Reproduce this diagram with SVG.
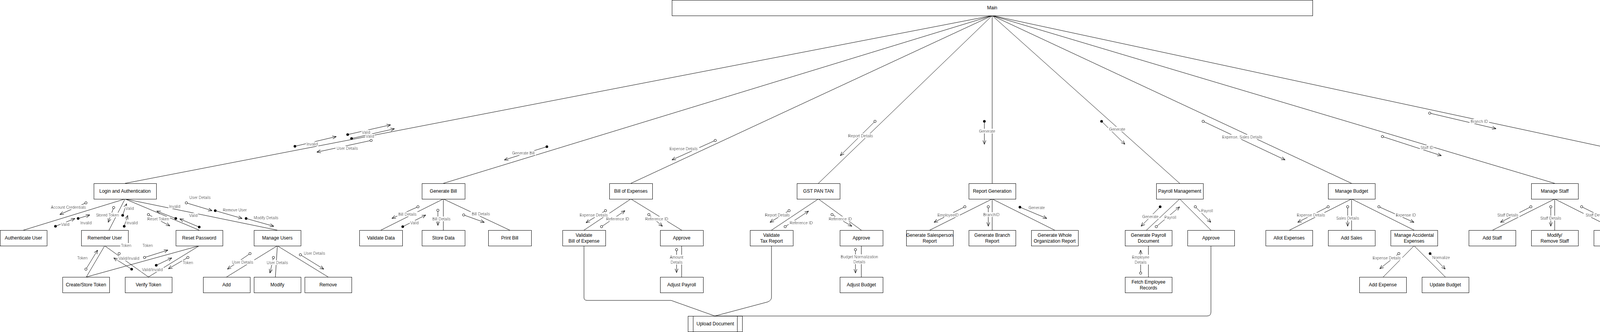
<svg xmlns="http://www.w3.org/2000/svg" width="4761" height="851" viewBox="0 0 4761 851">
<defs>
<style>
.n rect{fill:#fff;stroke:#000;stroke-width:1}
.n text,.t{font-family:"Liberation Sans",Arial,sans-serif;font-size:12px;text-anchor:middle;dominant-baseline:central;fill:#000}
#connectors path,#connectors line{fill:none;stroke:#000;stroke-width:1}
#couples line{stroke:#000;stroke-width:1;marker-end:url(#arr)}
#couples circle{stroke:#000;stroke-width:1}
#couples .o{fill:#fff}
#couples .f{fill:#000}
#labels text{font-family:"Liberation Sans",Arial,sans-serif;font-size:10px;text-anchor:middle;dominant-baseline:central;fill:#000;filter:url(#bg)}
</style>
<marker id="arr" viewBox="0 0 10 10" refX="10" refY="5" markerWidth="10" markerHeight="10" markerUnits="userSpaceOnUse" orient="auto">
<path d="M0,1 L10,5 L0,9" fill="none" stroke="#000" stroke-width="1"/>
</marker>
<filter id="bg" x="-0.04" y="-0.02" width="1.08" height="1.04">
<feFlood flood-color="#fff"/>
<feComposite in="SourceGraphic" operator="over"/>
</filter>
</defs>
<rect width="4761" height="851" fill="#fff"/>

<g id="connectors">
<line x1="2540" y1="40" x2="320" y2="470"/>
<line x1="2540" y1="40" x2="1135" y2="470"/>
<line x1="2540" y1="40" x2="1615" y2="470"/>
<line x1="2540" y1="40" x2="2095" y2="470"/>
<line x1="2540" y1="40" x2="2540" y2="470"/>
<line x1="2540" y1="40" x2="3020" y2="470"/>
<line x1="2540" y1="40" x2="3460" y2="470"/>
<line x1="2540" y1="40" x2="3980" y2="470"/>
<line x1="2540" y1="40" x2="4540" y2="470"/>
<line x1="320" y1="510" x2="60" y2="590"/>
<line x1="320" y1="510" x2="279" y2="590"/>
<line x1="320" y1="510" x2="510" y2="590"/>
<line x1="320" y1="510" x2="710" y2="590"/>
<line x1="268" y1="630" x2="221" y2="710"/>
<line x1="268" y1="630" x2="380" y2="710"/>
<line x1="510" y1="630" x2="221" y2="710"/>
<line x1="510" y1="630" x2="380" y2="710"/>
<line x1="710" y1="630" x2="580" y2="710"/>
<line x1="710" y1="630" x2="705" y2="710"/>
<line x1="710" y1="630" x2="840" y2="710"/>
<line x1="1135" y1="510" x2="975" y2="590"/>
<line x1="1135" y1="510" x2="1135" y2="590"/>
<line x1="1135" y1="510" x2="1305" y2="590"/>
<line x1="1615" y1="510" x2="1495" y2="590"/>
<line x1="1615" y1="510" x2="1745" y2="590"/>
<line x1="1745" y1="630" x2="1745" y2="710"/>
<path d="M1495 630 V763 Q1495 770 1503 770 H1718 L1830 810"/>
<line x1="2095" y1="510" x2="1975" y2="590"/>
<line x1="2095" y1="510" x2="2205" y2="590"/>
<line x1="2205" y1="630" x2="2205" y2="710"/>
<path d="M1975 630 V762 Q1975 770 1965 774 L1830 810"/>
<line x1="2540" y1="510" x2="2380" y2="590"/>
<line x1="2540" y1="510" x2="2540" y2="590"/>
<line x1="2540" y1="510" x2="2700" y2="590"/>
<line x1="3020" y1="510" x2="2935" y2="590"/>
<line x1="3020" y1="510" x2="3100" y2="590"/>
<line x1="2940" y1="630" x2="2940" y2="710"/>
<path d="M3100 630 V800 Q3100 810 3090 810 H1830"/>
<line x1="3460" y1="510" x2="3301" y2="590"/>
<line x1="3460" y1="510" x2="3460" y2="590"/>
<line x1="3460" y1="510" x2="3620" y2="590"/>
<line x1="3620" y1="630" x2="3541" y2="710"/>
<line x1="3620" y1="630" x2="3700" y2="710"/>
<line x1="3980" y1="510" x2="3821" y2="590"/>
<line x1="3980" y1="510" x2="3980" y2="590"/>
<line x1="3980" y1="510" x2="4139" y2="590"/>
<line x1="4540" y1="510" x2="4380" y2="590"/>
<line x1="4540" y1="510" x2="4540" y2="590"/>
<line x1="4540" y1="510" x2="4700" y2="590"/>
</g>

<g id="nodes">
<g id="main" class="n"><rect x="1720.5" y="0.5" width="1640" height="40"/><text x="2540" y="20">Main</text></g>
<g id="login" class="n"><rect x="240.5" y="470.5" width="160" height="40"/><text x="320" y="490">Login and Authentication</text></g>
<g id="authenticate-user" class="n"><rect x="0.5" y="590.5" width="120" height="40"/><text x="60" y="610">Authenticate User</text></g>
<g id="remember-user" class="n"><rect x="208.5" y="590.5" width="120" height="40"/><text x="268" y="610">Remember User</text></g>
<g id="reset-password" class="n"><rect x="450.5" y="590.5" width="120" height="40"/><text x="510" y="610">Reset Password</text></g>
<g id="manage-users" class="n"><rect x="650.5" y="590.5" width="120" height="40"/><text x="710" y="610">Manage Users</text></g>
<g id="create-token" class="n"><rect x="160.5" y="710.5" width="120" height="40"/><text x="220" y="730">Create/Store Token</text></g>
<g id="verify-token" class="n"><rect x="320.5" y="710.5" width="120" height="40"/><text x="380" y="730">Verify Token</text></g>
<g id="add-user" class="n"><rect x="520.5" y="710.5" width="120" height="40"/><text x="580" y="730">Add</text></g>
<g id="modify-user" class="n"><rect x="650.5" y="710.5" width="120" height="40"/><text x="710" y="730">Modify</text></g>
<g id="remove-user" class="n"><rect x="780.5" y="710.5" width="120" height="40"/><text x="840" y="730">Remove</text></g>
<g id="generate-bill" class="n"><rect x="1080.5" y="470.5" width="110" height="40"/><text x="1135" y="490">Generate Bill</text></g>
<g id="validate-data" class="n"><rect x="920.5" y="590.5" width="110" height="40"/><text x="975" y="610">Validate Data</text></g>
<g id="store-data" class="n"><rect x="1080.5" y="590.5" width="110" height="40"/><text x="1135" y="610">Store Data</text></g>
<g id="print-bill" class="n"><rect x="1250.5" y="590.5" width="110" height="40"/><text x="1305" y="610">Print Bill</text></g>
<g id="bill-expenses" class="n"><rect x="1560.5" y="470.5" width="110" height="40"/><text x="1615" y="490">Bill of Expenses</text></g>
<g id="validate-boe" class="n"><rect x="1440.5" y="590.5" width="110" height="40"/><text x="1495" y="602.5">Validate</text><text x="1495" y="617.5">Bill of Expense</text></g>
<g id="approve-boe" class="n"><rect x="1690.5" y="590.5" width="110" height="40"/><text x="1745" y="610">Approve</text></g>
<g id="adjust-payroll" class="n"><rect x="1690.5" y="710.5" width="110" height="40"/><text x="1745" y="730">Adjust Payroll</text></g>
<g id="gst" class="n"><rect x="2040.5" y="470.5" width="110" height="40"/><text x="2095" y="490">GST PAN TAN</text></g>
<g id="validate-tax" class="n"><rect x="1920.5" y="590.5" width="110" height="40"/><text x="1975" y="602.5">Validate</text><text x="1975" y="617.5">Tax Report</text></g>
<g id="approve-gst" class="n"><rect x="2150.5" y="590.5" width="110" height="40"/><text x="2205" y="610">Approve</text></g>
<g id="adjust-budget" class="n"><rect x="2150.5" y="710.5" width="110" height="40"/><text x="2205" y="730">Adjust Budget</text></g>
<g id="report-generation" class="n"><rect x="2480.5" y="470.5" width="120" height="40"/><text x="2540" y="490">Report Generation</text></g>
<g id="salesperson-report" class="n"><rect x="2320.5" y="590.5" width="120" height="40"/><text x="2380" y="602.5">Generate Salesperson</text><text x="2380" y="617.5">Report</text></g>
<g id="branch-report" class="n"><rect x="2480.5" y="590.5" width="120" height="40"/><text x="2540" y="602.5">Generate Branch</text><text x="2540" y="617.5">Report</text></g>
<g id="org-report" class="n"><rect x="2640.5" y="590.5" width="120" height="40"/><text x="2700" y="602.5">Generate Whole</text><text x="2700" y="617.5">Organization Report</text></g>
<g id="payroll" class="n"><rect x="2960.5" y="470.5" width="120" height="40"/><text x="3020" y="490">Payroll Management</text></g>
<g id="payroll-document" class="n"><rect x="2880.5" y="590.5" width="120" height="40"/><text x="2940" y="602.5">Generate Payroll</text><text x="2940" y="617.5">Document</text></g>
<g id="approve-payroll" class="n"><rect x="3040.5" y="590.5" width="120" height="40"/><text x="3100" y="610">Approve</text></g>
<g id="fetch-employee" class="n"><rect x="2880.5" y="710.5" width="120" height="40"/><text x="2940" y="722.5">Fetch Employee</text><text x="2940" y="737.5">Records</text></g>
<g id="manage-budget" class="n"><rect x="3400.5" y="470.5" width="120" height="40"/><text x="3460" y="490">Manage Budget</text></g>
<g id="allot-expenses" class="n"><rect x="3240.5" y="590.5" width="120" height="40"/><text x="3300" y="610">Allot Expenses</text></g>
<g id="add-sales" class="n"><rect x="3400.5" y="590.5" width="120" height="40"/><text x="3460" y="610">Add Sales</text></g>
<g id="accidental-expenses" class="n"><rect x="3560.5" y="590.5" width="120" height="40"/><text x="3620" y="602.5">Manage Accidental</text><text x="3620" y="617.5">Expenses</text></g>
<g id="add-expense" class="n"><rect x="3480.5" y="710.5" width="120" height="40"/><text x="3540" y="730">Add Expense</text></g>
<g id="update-budget" class="n"><rect x="3640.5" y="710.5" width="120" height="40"/><text x="3700" y="730">Update Budget</text></g>
<g id="manage-staff" class="n"><rect x="3920.5" y="470.5" width="120" height="40"/><text x="3980" y="490">Manage Staff</text></g>
<g id="add-staff" class="n"><rect x="3760.5" y="590.5" width="120" height="40"/><text x="3820" y="610">Add Staff</text></g>
<g id="modify-staff" class="n"><rect x="3920.5" y="590.5" width="120" height="40"/><text x="3980" y="602.5">Modify/</text><text x="3980" y="617.5">Remove Staff</text></g>
<g id="transfer-staff" class="n"><rect x="4080.5" y="590.5" width="120" height="40"/><text x="4140" y="610">Transfer Staff</text></g>
<g id="manage-branch" class="n"><rect x="4480.5" y="470.5" width="120" height="40"/><text x="4540" y="482.5">Manage Branch</text><text x="4540" y="497.5">Account</text></g>
<g id="add-branch" class="n"><rect x="4320.5" y="590.5" width="120" height="40"/><text x="4380" y="610">Add Branch</text></g>
<g id="modify-branch" class="n"><rect x="4480.5" y="590.5" width="120" height="40"/><text x="4540" y="610">Modify</text></g>
<g id="delete-branch" class="n"><rect x="4640.5" y="590.5" width="120" height="40"/><text x="4700" y="610">Delete</text></g>
<g id="upload-document" class="n"><rect x="1761.5" y="810.5" width="139" height="40"/><line x1="1774.5" y1="810.5" x2="1774.5" y2="850.5" stroke="#000"/><line x1="1887.5" y1="810.5" x2="1887.5" y2="850.5" stroke="#000"/><text x="1831" y="830">Upload Document</text></g>
</g>

<g id="couples">
<line x1="755" y1="375" x2="861" y2="350"/><circle class="f" cx="755" cy="375" r="3"/>
<line x1="890" y1="345" x2="1000" y2="320"/><circle class="f" cx="890" cy="345" r="3"/>
<line x1="900" y1="355" x2="1010" y2="330"/><circle class="f" cx="900" cy="355" r="3"/>
<line x1="950" y1="360" x2="811" y2="390"/><circle class="o" cx="950" cy="360" r="3"/>
<line x1="1400" y1="376" x2="1291" y2="410"/><circle class="f" cx="1400" cy="376" r="3"/>
<line x1="1831" y1="360" x2="1720" y2="410"/><circle class="o" cx="1831" cy="360" r="3"/>
<line x1="2240" y1="311" x2="2151" y2="399"/><circle class="o" cx="2240" cy="311" r="3"/>
<line x1="2520" y1="311" x2="2520" y2="370"/><circle class="f" cx="2520" cy="311" r="3"/>
<line x1="2820" y1="311" x2="2880" y2="370"/><circle class="f" cx="2820" cy="311" r="3"/>
<line x1="3080" y1="311" x2="3290" y2="410"/><circle class="o" cx="3080" cy="311" r="3"/>
<line x1="3539" y1="350" x2="3690" y2="399"/><circle class="o" cx="3539" cy="350" r="3"/>
<line x1="3660" y1="290" x2="3830" y2="330"/><circle class="o" cx="3660" cy="290" r="3"/>

<line x1="220" y1="520" x2="153" y2="550"/><circle class="o" cx="220" cy="520" r="3"/>
<line x1="142" y1="580" x2="192" y2="560"/><circle class="f" cx="142" cy="580" r="3"/>
<line x1="200" y1="560" x2="230" y2="551"/><circle class="f" cx="200" cy="560" r="3"/>
<line x1="291" y1="532" x2="277" y2="570"/><circle class="o" cx="291" cy="532" r="3"/>
<line x1="314" y1="552" x2="324" y2="522"/><circle class="f" cx="314" cy="552" r="3"/>
<line x1="318" y1="580" x2="327" y2="552"/><circle class="f" cx="318" cy="580" r="3"/>
<line x1="380" y1="550" x2="435" y2="579"/><circle class="o" cx="380" cy="550" r="3"/>
<line x1="510" y1="582" x2="460" y2="561"/><circle class="f" cx="510" cy="582" r="3"/>
<line x1="450" y1="560" x2="401" y2="541"/><circle class="f" cx="450" cy="560" r="3"/>
<line x1="477" y1="520" x2="543" y2="540"/><circle class="o" cx="477" cy="520" r="3"/>
<line x1="551" y1="540" x2="620" y2="560"/><circle class="f" cx="551" cy="540" r="3"/>
<line x1="630" y1="560" x2="701" y2="580"/><circle class="f" cx="630" cy="560" r="3"/>

<line x1="220" y1="690" x2="250" y2="641"/><circle class="o" cx="220" cy="690" r="3"/>
<circle class="o" cx="305" cy="650" r="3"/>
<line x1="337" y1="690" x2="291" y2="661"/><circle class="f" cx="337" cy="690" r="3"/>
<line x1="370" y1="660" x2="430" y2="641"/><circle class="o" cx="370" cy="660" r="3"/>
<line x1="400" y1="680" x2="440" y2="661"/><circle class="f" cx="400" cy="680" r="3"/>
<line x1="481" y1="660" x2="431" y2="689"/><circle class="o" cx="481" cy="660" r="3"/>

<line x1="640" y1="650" x2="582" y2="690"/><circle class="o" cx="640" cy="650" r="3"/>
<line x1="700" y1="660" x2="691" y2="700"/><circle class="o" cx="700" cy="660" r="3"/>
<line x1="769" y1="653" x2="829" y2="690"/><circle class="o" cx="769" cy="653" r="3"/>

<line x1="1070" y1="530" x2="1003" y2="560"/><circle class="o" cx="1070" cy="530" r="3"/>
<line x1="1031" y1="581" x2="1090" y2="551"/><circle class="f" cx="1031" cy="581" r="3"/>
<line x1="1121" y1="539" x2="1121" y2="578"/><circle class="o" cx="1121" cy="539" r="3"/>
<line x1="1187" y1="551" x2="1240" y2="570"/><circle class="o" cx="1187" cy="551" r="3"/>

<line x1="1550" y1="540" x2="1500" y2="571"/><circle class="o" cx="1550" cy="540" r="3"/>
<line x1="1540" y1="581" x2="1600" y2="540"/><circle class="o" cx="1540" cy="581" r="3"/>
<line x1="1661" y1="550" x2="1696" y2="580"/><circle class="o" cx="1661" cy="550" r="3"/>
<line x1="1732" y1="640" x2="1732" y2="699"/><circle class="o" cx="1732" cy="640" r="3"/>

<line x1="2020" y1="540" x2="1971" y2="570"/><circle class="o" cx="2020" cy="540" r="3"/>
<line x1="2010" y1="581" x2="2070" y2="541"/><circle class="o" cx="2010" cy="581" r="3"/>
<line x1="2130" y1="550" x2="2181" y2="580"/><circle class="o" cx="2130" cy="550" r="3"/>
<line x1="2190" y1="640" x2="2190" y2="700"/><circle class="o" cx="2190" cy="640" r="3"/>

<line x1="2470" y1="530" x2="2391" y2="570"/><circle class="o" cx="2470" cy="530" r="3"/>
<line x1="2530" y1="530" x2="2530" y2="580"/><circle class="o" cx="2530" cy="530" r="3"/>
<line x1="2611" y1="531" x2="2680" y2="560"/><circle class="f" cx="2611" cy="531" r="3"/>

<line x1="2970" y1="530" x2="2921" y2="580"/><circle class="f" cx="2970" cy="530" r="3"/>
<line x1="2960" y1="581" x2="3020" y2="530"/><circle class="o" cx="2960" cy="581" r="3"/>
<line x1="3060" y1="530" x2="3100" y2="570"/><circle class="o" cx="3060" cy="530" r="3"/>
<line x1="2920" y1="700" x2="2920" y2="641"/><circle class="o" cx="2920" cy="700" r="3"/>

<line x1="3400" y1="530" x2="3322" y2="570"/><circle class="o" cx="3400" cy="530" r="3"/>
<line x1="3450" y1="530" x2="3450" y2="580"/><circle class="o" cx="3450" cy="530" r="3"/>
<line x1="3530" y1="530" x2="3620" y2="570"/><circle class="o" cx="3530" cy="530" r="3"/>
<line x1="3581" y1="650" x2="3532" y2="689"/><circle class="o" cx="3581" cy="650" r="3"/>
<line x1="3661" y1="650" x2="3700" y2="690"/><circle class="f" cx="3661" cy="650" r="3"/>

<line x1="3919" y1="530" x2="3841" y2="570"/><circle class="o" cx="3919" cy="530" r="3"/>
<line x1="3970" y1="530" x2="3970" y2="580"/><circle class="o" cx="3970" cy="530" r="3"/>
<line x1="4049" y1="530" x2="4130" y2="570"/><circle class="o" cx="4049" cy="530" r="3"/>

<line x1="4470" y1="530" x2="4391" y2="570"/><circle class="o" cx="4470" cy="530" r="3"/>
<line x1="4530" y1="530" x2="4530" y2="580"/><circle class="o" cx="4530" cy="530" r="3"/>
<line x1="4611" y1="530" x2="4700" y2="570"/><circle class="o" cx="4611" cy="530" r="3"/>
</g>

<g id="labels">
<text x="799" y="369">Invalid</text>
<text x="937" y="339">Valid</text>
<text x="947" y="349">Valid</text>
<text x="889" y="380">User Details</text>
<text x="1340" y="392">Generate Bill</text>
<text x="1750" y="381">Expense Details</text>
<text x="2203" y="348">Report Details</text>
<text x="2527" y="336">Generate</text>
<text x="2860" y="331">Generate</text>
<text x="3180" y="351">Expense, Sales Details</text>
<text x="3653" y="378">Staff ID</text>
<text x="3787" y="311">Branch ID</text>

<text x="175" y="531">Account Credentials</text>
<text x="167" y="575">Valid</text>
<text x="220" y="571">Invalid</text>
<text x="275" y="551">Stored Token</text>
<text x="332" y="534">Valid</text>
<text x="338" y="571">Invalid</text>
<text x="405" y="561">Reset Token</text>
<text x="495" y="552">Valid</text>
<text x="447" y="529">Invalid</text>
<text x="512" y="506">User Details</text>
<text x="601" y="538">Remove User</text>
<text x="681" y="558">Modify Details</text>

<text x="211" y="661">Token</text>
<text x="323" y="629">Token</text>
<text x="330" y="662">Valid/Invalid</text>
<text x="378" y="629">Token</text>
<text x="390" y="691">Valid/Invalid</text>
<text x="481" y="673">Token</text>

<text x="621" y="672">User Details</text>
<text x="710" y="673">User Details</text>
<text x="805" y="649">User Details</text>

<text x="1043" y="549">Bill Details</text>
<text x="1061" y="571">Valid</text>
<text x="1130" y="561">Bill Details</text>
<text x="1231" y="548">Bill Details</text>

<text x="1520" y="551">Expense Details</text>
<text x="1581" y="561">Reference ID</text>
<text x="1681" y="561">Reference ID</text>
<text x="1732" y="659"><tspan x="1732">Amount</tspan><tspan x="1732" dy="12.5">Details</tspan></text>

<text x="1990" y="551">Report Details</text>
<text x="2051" y="571">Reference ID</text>
<text x="2151" y="561">Reference ID</text>
<text x="2200" y="658"><tspan x="2200">Budget Normalization</tspan><tspan x="2200" dy="12.5">Details</tspan></text>

<text x="2427" y="551">EmployeeID</text>
<text x="2538" y="550">BranchID</text>
<text x="2654" y="532">Generate</text>

<text x="2945" y="555">Generate</text>
<text x="2996" y="557">Payroll</text>
<text x="3090" y="540">Payroll</text>
<text x="2920" y="659"><tspan x="2920">Employee</tspan><tspan x="2920" dy="12.5">Details</tspan></text>

<text x="3356" y="551">Expense Details</text>
<text x="3450" y="559">Sales Details</text>
<text x="3599" y="551">Expense ID</text>
<text x="3550" y="661">Expense Details</text>
<text x="3689" y="660">Normalize</text>

<text x="3860" y="551">Staff Details</text>
<text x="3970" y="559">Staff Details</text>
<text x="4111" y="551">Staff Details, Branch ID</text>

<text x="4410" y="551">Branch Details</text>
<text x="4530" y="558">Branch Details</text>
<text x="4677" y="551">Branch Details</text>
</g>
</svg>
